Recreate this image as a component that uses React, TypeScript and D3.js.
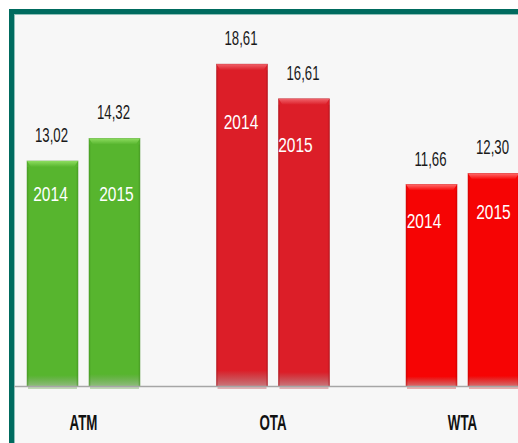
import React from "react";
import * as d3 from "d3";

// chart data
const categories = ["ATM", "OTA", "WTA"];
const years = ["2014", "2015"];
const values2014 = [13.02, 18.61, 11.66];
const values2015 = [14.32, 16.61, 12.3];

// styling / layout (kept apart from the data)
const barColors = [
  { base: "#57b52e", light: "#8ddc5f", dark: "#3f8f1f" },
  { base: "#dc1e28", light: "#f0626a", dark: "#a8121a" },
  { base: "#f60404", light: "#ff6a6a", dark: "#c00000" },
];
// hand placed year captions inside the bars: [dx from bar centre, dy from bar top]
const yearLabelPos = [
  [[-2, 40.5], [2, 63]],
  [[-1, 65], [-8.5, 53.5]],
  [[-7.5, 43.5], [0, 46]],
];

const W = 518;
const H = 443;
const baseY = 386.5;

const comma = d3.formatLocale({ decimal: ",", thousands: ".", grouping: [3], currency: ["", ""] }).format(".2f");
const FONT = "'Liberation Sans', Arial, sans-serif";

export default function App() {
  const x0 = d3.scaleBand<string>()
    .domain(categories)
    .range([-11.25, -11.25 + 3 * 189.5])
    .paddingInner(0.404)
    .paddingOuter(0.202);
  const x1 = d3.scaleBand<string>()
    .domain(years)
    .range([0, x0.bandwidth()])
    .paddingInner(0.1774);
  const y = d3.scaleLinear().domain([0, 20]).range([baseY, baseY - 20 * 17.32]);

  const series = [values2014, values2015];
  const bw = x1.bandwidth();

  return (
    <svg width={W} height={H} style={{ position: "absolute", left: 0, top: 0 }}>
      <defs>
        {barColors.map((c, i) => (
          <linearGradient key={"g" + i} id={"body" + i} x1="0" y1="0" x2="0" y2="1">
            <stop offset="0" stopColor={c.base} />
            <stop offset="0.95" stopColor={c.base} />
            <stop offset="1" stopColor={c.dark} stopOpacity={0.55} />
          </linearGradient>
        ))}
        {barColors.map((c, i) => (
          <linearGradient key={"t" + i} id={"top" + i} x1="0" y1="0" x2="0" y2="1">
            <stop offset="0" stopColor={c.light} />
            <stop offset="1" stopColor={c.base} />
          </linearGradient>
        ))}
      </defs>
      <rect x={0} y={0} width={W} height={H} fill="#ffffff" />
      <rect x={9} y={9} width={W + 20} height={H + 20} fill="#006b5f" />
      <rect x={14} y={14} width={W + 20} height={H + 20} fill="#f7f7f7" />
      <line x1={14} x2={W} y1={14.5} y2={14.5} stroke="#8fc0b9" strokeWidth={1} />
      <line x1={14.5} x2={14.5} y1={14} y2={H} stroke="#8fc0b9" strokeWidth={1} />

      {categories.map((cat, ci) => (
        <g key={cat} transform={`translate(${x0(cat)},0)`}>
          {years.map((yr, si) => {
            const v = series[si][ci];
            const bx = x1(yr)!;
            const top = y(v);
            const h = baseY - top;
            const c = barColors[ci];
            const [ldx, ldy] = yearLabelPos[ci][si];
            const cx = bx + bw / 2;
            return (
              <g key={yr}>
                {/* shadow under the baseline */}
                <rect x={bx + 1} y={baseY} width={bw - 2} height={2.5} fill={c.dark} opacity={0.3} />
                <rect x={bx} y={top} width={bw} height={h} fill={`url(#body${ci})`} stroke={c.dark} strokeWidth={0.8} strokeOpacity={0.6} />
                {/* bevel on top */}
                <path
                  d={`M${bx},${top}H${bx + bw}L${bx + bw - 4},${top + 6}H${bx + 4}Z`}
                  fill={`url(#top${ci})`}
                />
                <rect x={bx} y={top + 6} width={1.5} height={h - 6} fill={c.dark} opacity={0.3} />
                <rect x={bx + bw - 1.5} y={top + 6} width={1.5} height={h - 6} fill={c.dark} opacity={0.3} />
                <text
                  transform={`translate(${cx - 1},${top - 19}) scale(0.66,1)`}
                  textAnchor="middle"
                  fontFamily={FONT}
                  fontSize={20}
                  fill="#1a1a1a"
                >
                  {comma(v)}
                </text>
                <text
                  transform={`translate(${cx + ldx},${top + ldy}) scale(0.74,1)`}
                  textAnchor="middle"
                  fontFamily={FONT}
                  fontSize={21}
                  fill="#ffffff"
                >
                  {yr}
                </text>
              </g>
            );
          })}
          <text
            transform={`translate(${x0.bandwidth() / 2},430) scale(0.62,1)`}
            textAnchor="middle"
            fontFamily={FONT}
            fontWeight="bold"
            fontSize={21.5}
            fill="#111111"
          >
            {cat}
          </text>
        </g>
      ))}
      <line x1={14} x2={W} y1={baseY} y2={baseY} stroke="#a6a6a6" strokeWidth={1.5} />
    </svg>
  );
}
